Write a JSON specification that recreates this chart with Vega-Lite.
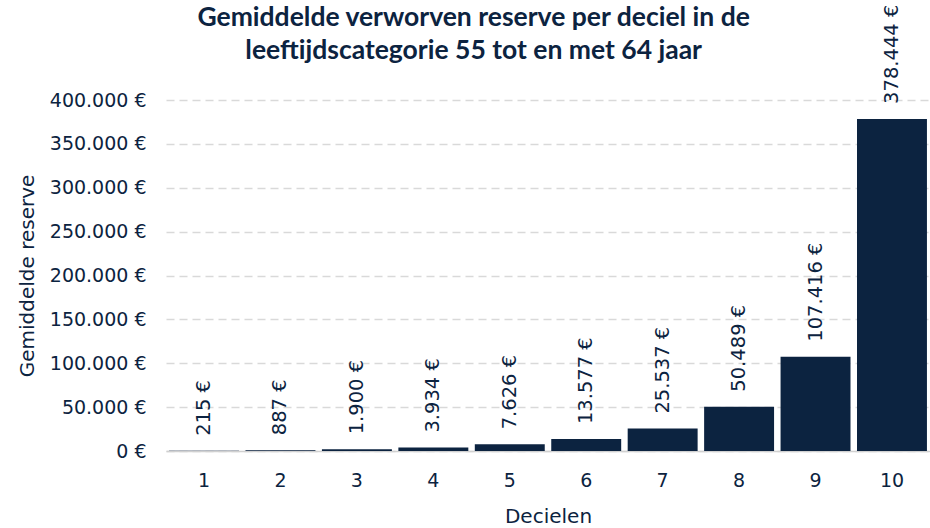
{
  "$schema": "https://vega.github.io/schema/vega-lite/v6.json",
  "autosize": {"type": "none"},
  "padding": {"left": 166, "top": 100, "right": 0, "bottom": 77},
  "width": 764,
  "height": 351,
  "config": {
    "locale": {"number": {"decimal": ",", "thousands": ".", "grouping": [3], "currency": ["", " €"]}},
    "view": {"stroke": null},
    "font": "DejaVu Sans"
  },
  "title": {
    "text": ["Gemiddelde verworven reserve per deciel in de", "leeftijdscategorie 55 tot en met 64 jaar"],
    "font": "Lato",
    "fontWeight": "bold",
    "fontSize": 26.5,
    "lineHeight": 33,
    "color": "#0c2340",
    "anchor": "middle",
    "frame": "bounds",
    "offset": -60
  },
  "data": {
    "values": [
      {"deciel": "1", "reserve": 215},
      {"deciel": "2", "reserve": 887},
      {"deciel": "3", "reserve": 1900},
      {"deciel": "4", "reserve": 3934},
      {"deciel": "5", "reserve": 7626},
      {"deciel": "6", "reserve": 13577},
      {"deciel": "7", "reserve": 25537},
      {"deciel": "8", "reserve": 50489},
      {"deciel": "9", "reserve": 107416},
      {"deciel": "10", "reserve": 378444}
    ]
  },
  "encoding": {
    "x": {
      "field": "deciel", "type": "ordinal", "sort": null,
      "scale": {"paddingInner": 0.085, "paddingOuter": 0.04},
      "axis": {
        "title": "Decielen", "labelAngle": 0, "labelFont": "DejaVu Sans", "labelFontSize": 19,
        "labelColor": "#0c2340", "labelPadding": 20, "ticks": false,
        "domainColor": "#d0d0d0", "domainWidth": 1.5,
        "titleFont": "DejaVu Sans", "titleFontSize": 20, "titleFontWeight": "normal",
        "titleColor": "#0c2340", "titlePadding": 16
      }
    },
    "y": {
      "field": "reserve", "type": "quantitative",
      "scale": {"domain": [0, 400000]},
      "axis": {
        "title": "Gemiddelde reserve", "format": "$,.0f", "values": [0,50000,100000,150000,200000,250000,300000,350000,400000],
        "labelOverlap": false,
        "labelFont": "DejaVu Sans", "labelFontSize": 19, "labelColor": "#0c2340", "labelPadding": 20,
        "ticks": false, "domain": false,
        "grid": true, "gridColor": "#d9d9d9", "gridDash": [8, 5], "gridWidth": 1.5,
        "titleFont": "DejaVu Sans", "titleFontSize": 20, "titleFontWeight": "normal",
        "titleColor": "#0c2340", "titlePadding": 12
      }
    }
  },
  "layer": [
    {"mark": {"type": "bar", "color": "#0c2340"}},
    {
      "mark": {"type": "text", "angle": 270, "align": "left", "baseline": "middle", "dx": 15,
               "font": "DejaVu Sans", "fontSize": 19.5, "color": "#0c2340"},
      "encoding": {"text": {"field": "reserve", "type": "quantitative", "format": "$,.0f"}}
    }
  ]
}
